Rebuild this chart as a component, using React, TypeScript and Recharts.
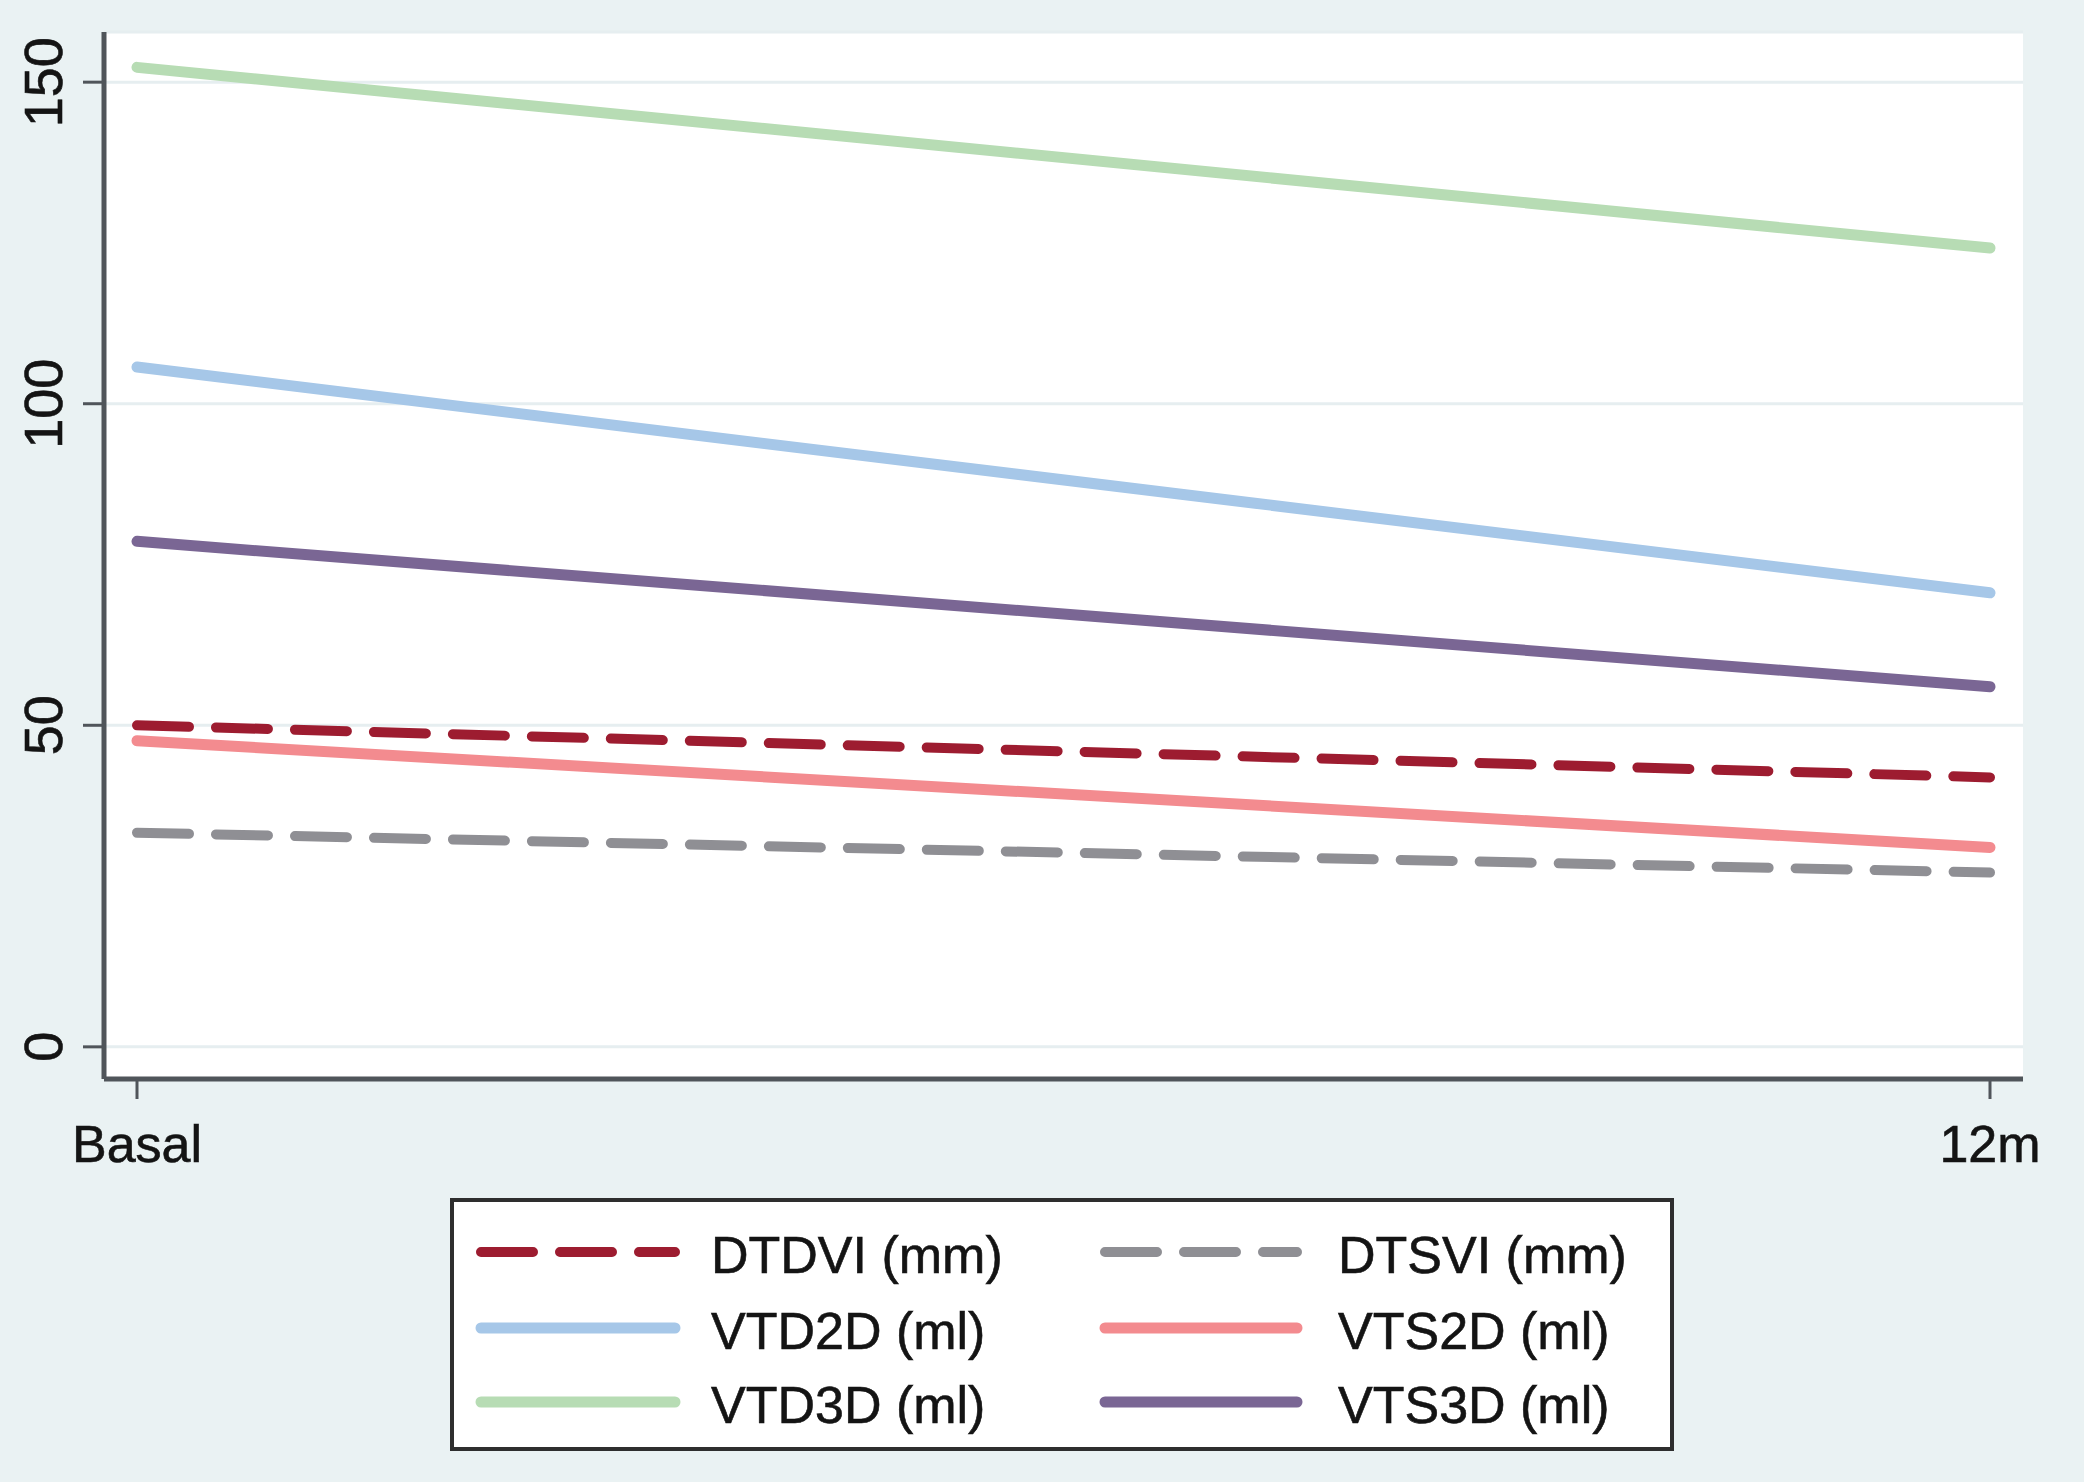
import React from 'react';
import { LineChart, Line, XAxis, YAxis, CartesianGrid } from 'recharts';

// time points
const categories = ['Basal', '12m'];

// series values
const dtdvi = [50.0, 41.9];
const dtsvi = [33.3, 27.1];
const vtd2d = [105.7, 70.6];
const vts2d = [47.6, 31.0];
const vtd3d = [152.3, 124.2];
const vts3d = [78.6, 56.0];

const yTicks = [0, 50, 100, 150];

const seriesNames = ['DTDVI (mm)', 'DTSVI (mm)', 'VTD2D (ml)', 'VTS2D (ml)', 'VTD3D (ml)', 'VTS3D (ml)'];
const seriesKeys = ['dtdvi', 'dtsvi', 'vtd2d', 'vts2d', 'vtd3d', 'vts3d'];
const seriesColors = ['#9d1c30', '#8f8f94', '#a6c7e8', '#f38b8f', '#b7dcb4', '#7a6694'];
const seriesDashed = [true, true, false, false, false, false];

const data = categories.map((c, i) => ({
  name: c,
  dtdvi: dtdvi[i],
  dtsvi: dtsvi[i],
  vtd2d: vtd2d[i],
  vts2d: vts2d[i],
  vtd3d: vtd3d[i],
  vts3d: vts3d[i],
}));

const FONT = '"Liberation Sans", Arial, Helvetica, sans-serif';
const DASH = '52 27';
const lineW = (i: number) => (seriesDashed[i] ? 10 : 11);

const YTick = (props: any) => {
  const { x, y, payload } = props;
  return (
    <text
      transform={`translate(${x - 21},${y}) rotate(-90)`}
      textAnchor="middle"
      fontSize={54}
      fontFamily={FONT}
      fill="#141414"
      stroke="#141414"
      strokeWidth={0.6}
    >
      {payload.value}
    </text>
  );
};

const XTick = (props: any) => {
  const { x, y, payload } = props;
  return (
    <text
      x={x}
      y={y + 63}
      textAnchor="middle"
      fontSize={52}
      fontFamily={FONT}
      fill="#141414"
      stroke="#141414"
      strokeWidth={0.6}
    >
      {payload.value}
    </text>
  );
};

const ChartLegend = () => {
  const rows = [1252, 1328, 1402];
  const cols = [
    { x1: 481, x2: 675, tx: 711 },
    { x1: 1105, x2: 1297, tx: 1338 },
  ];
  return (
    <svg
      width={2084}
      height={1482}
      style={{ position: 'absolute', left: 0, top: 0, pointerEvents: 'none' }}
    >
      <rect x={452} y={1200} width={1220} height={249} fill="#fff" stroke="#2e2e2e" strokeWidth={4} />
      {seriesNames.map((name, i) => {
        const col = cols[i % 2];
        const ry = rows[Math.floor(i / 2)];
        return (
          <g key={name}>
            <line
              x1={col.x1}
              x2={col.x2}
              y1={ry}
              y2={ry}
              stroke={seriesColors[i]}
              strokeWidth={lineW(i)}
              strokeLinecap="round"
              strokeDasharray={seriesDashed[i] ? DASH : undefined}
            />
            <text
              x={col.tx}
              y={ry + 21}
              fontSize={52}
              fontFamily={FONT}
              fill="#141414"
              stroke="#141414"
              strokeWidth={0.6}
            >
              {name}
            </text>
          </g>
        );
      })}
    </svg>
  );
};

const App = () => {
  return (
    <div style={{ position: 'absolute', left: 0, top: 0, width: 2084, height: 1482, background: '#eaf2f3' }}>
      <LineChart width={2084} height={1482} data={data} margin={{ top: 32, right: 61, left: 0, bottom: 0 }}>
        <CartesianGrid vertical={false} stroke="#e6eef0" strokeWidth={3} fill="#ffffff" />
        <XAxis
          dataKey="name"
          height={403}
          padding={{ left: 33, right: 33 }}
          axisLine={{ stroke: '#50555a', strokeWidth: 5 }}
          tickLine={{ stroke: '#50555a', strokeWidth: 3 }}
          tickSize={20}
          tickMargin={0}
          tick={<XTick />}
          interval={0}
        />
        <YAxis
          width={104}
          domain={[-5, 157.8]}
          ticks={yTicks}
          allowDataOverflow
          axisLine={{ stroke: '#50555a', strokeWidth: 5 }}
          tickLine={{ stroke: '#50555a', strokeWidth: 3 }}
          tickSize={21}
          tickMargin={0}
          tick={<YTick />}
        />
        {seriesKeys.map((k, i) => (
          <Line
            key={k}
            type="linear"
            dataKey={k}
            name={seriesNames[i]}
            stroke={seriesColors[i]}
            strokeWidth={lineW(i)}
            strokeLinecap="round"
            strokeDasharray={seriesDashed[i] ? DASH : undefined}
            dot={false}
            activeDot={false}
            isAnimationActive={false}
          />
        ))}
      </LineChart>
      <ChartLegend />
    </div>
  );
};

export default App;
